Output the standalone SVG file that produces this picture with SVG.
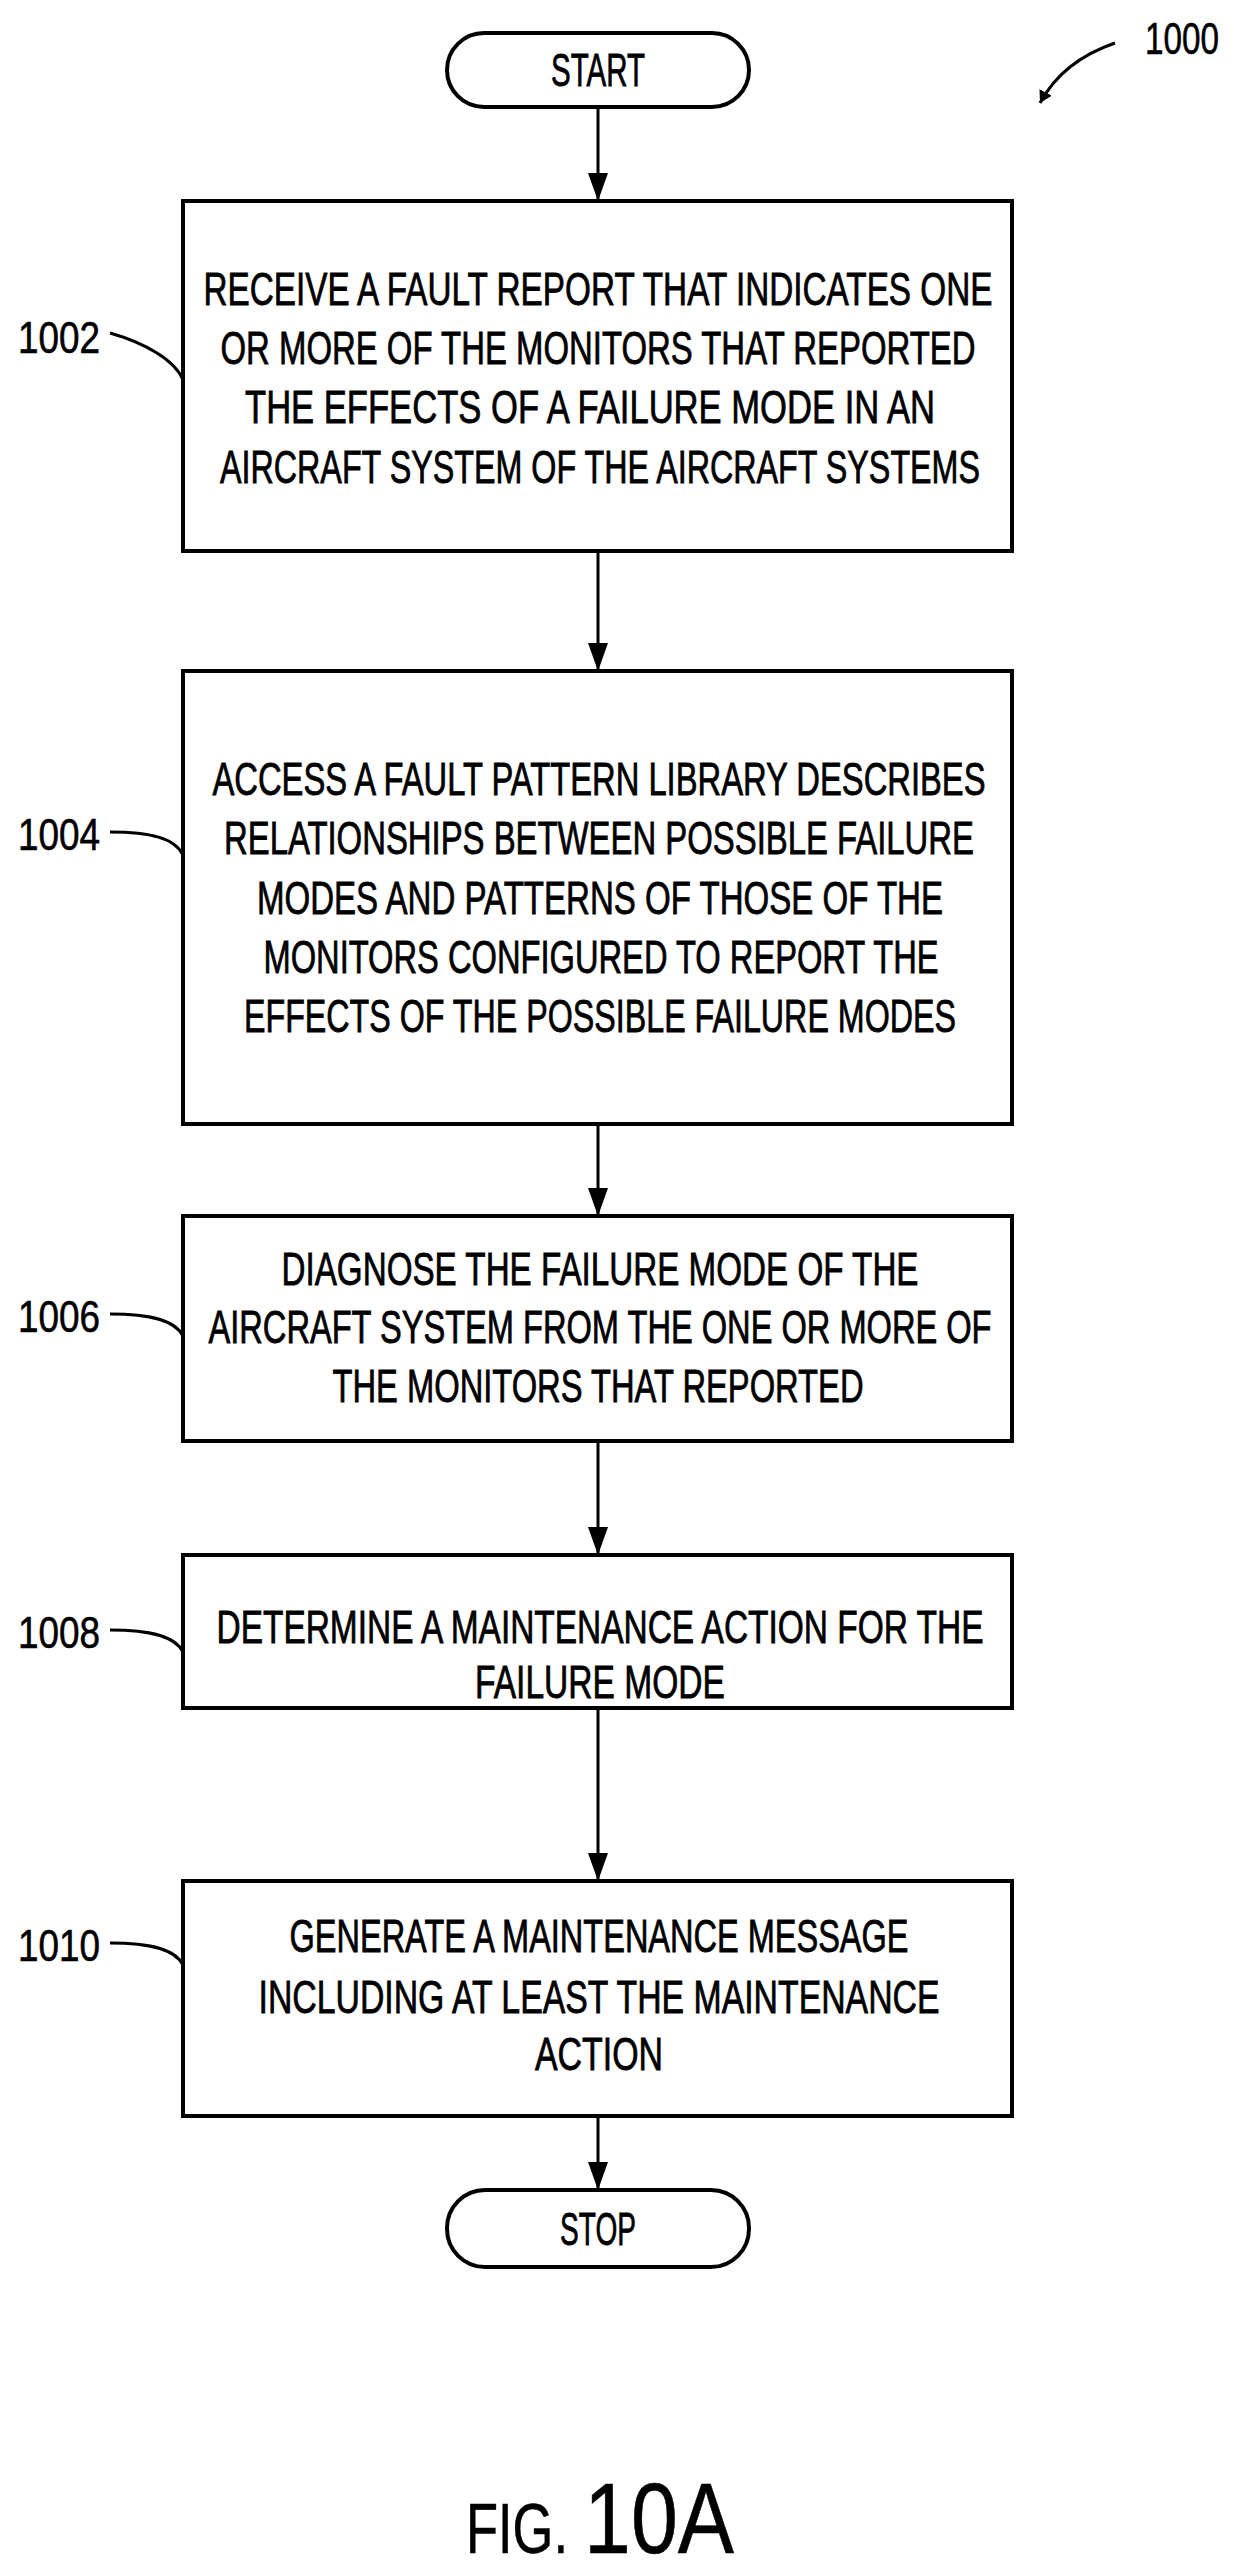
<svg xmlns="http://www.w3.org/2000/svg" width="1234" height="2565" viewBox="0 0 1234 2565">
<style>
.b{fill:#fff;stroke:#000;stroke-width:4}
.t{font-family:"Liberation Sans",Arial,sans-serif;font-size:46px;text-anchor:middle;fill:#000;stroke:#000;stroke-width:0.8}
.n{font-family:"Liberation Sans",Arial,sans-serif;font-size:44px;fill:#000;stroke:#000;stroke-width:0.6}
.c{stroke:#000;stroke-width:3;fill:none}
.l{stroke:#000;stroke-width:3;fill:none}
</style>
<defs><marker id="a" markerWidth="12" markerHeight="14" refX="12" refY="7" orient="auto" markerUnits="userSpaceOnUse"><path d="M0,0L12,7L0,14z" fill="#000"/></marker>
<marker id="a2" markerWidth="28" markerHeight="20" refX="26" refY="10" orient="auto" markerUnits="userSpaceOnUse"><path d="M0,0L28,10L0,20z" fill="#000"/></marker></defs>
<g id="connectors">
<line class="c" x1="598" y1="107" x2="598" y2="199" marker-end="url(#a2)"/>
<line class="c" x1="598" y1="551" x2="598" y2="669" marker-end="url(#a2)"/>
<line class="c" x1="598" y1="1124" x2="598" y2="1214" marker-end="url(#a2)"/>
<line class="c" x1="598" y1="1441" x2="598" y2="1553" marker-end="url(#a2)"/>
<line class="c" x1="598" y1="1708" x2="598" y2="1879" marker-end="url(#a2)"/>
<line class="c" x1="598" y1="2116" x2="598" y2="2188" stroke-width="1.5" marker-end="url(#a2)"/>
</g>
<g id="start"><rect class="b" x="447" y="33" width="302" height="74" rx="37"/><text class="t" x="598" y="86" textLength="94" lengthAdjust="spacingAndGlyphs">START</text></g>
<g id="n1002"><rect class="b" x="183" y="201" width="829" height="350"/>
<text class="t" x="598" y="305" textLength="789" lengthAdjust="spacingAndGlyphs">RECEIVE A FAULT REPORT THAT INDICATES ONE</text>
<text class="t" x="598" y="364" textLength="755" lengthAdjust="spacingAndGlyphs">OR MORE OF THE MONITORS THAT REPORTED</text>
<text class="t" x="590" y="423" textLength="690" lengthAdjust="spacingAndGlyphs">THE EFFECTS OF A FAILURE MODE IN AN</text>
<text class="t" x="600" y="483" textLength="760" lengthAdjust="spacingAndGlyphs">AIRCRAFT SYSTEM OF THE AIRCRAFT SYSTEMS</text></g>
<g id="n1004"><rect class="b" x="183" y="671" width="829" height="453"/>
<text class="t" x="599" y="795" textLength="773" lengthAdjust="spacingAndGlyphs">ACCESS A FAULT PATTERN LIBRARY DESCRIBES</text>
<text class="t" x="599" y="854" textLength="750" lengthAdjust="spacingAndGlyphs">RELATIONSHIPS BETWEEN POSSIBLE FAILURE</text>
<text class="t" x="600" y="914" textLength="686" lengthAdjust="spacingAndGlyphs">MODES AND PATTERNS OF THOSE OF THE</text>
<text class="t" x="601" y="973" textLength="675" lengthAdjust="spacingAndGlyphs">MONITORS CONFIGURED TO REPORT THE</text>
<text class="t" x="600" y="1032" textLength="712" lengthAdjust="spacingAndGlyphs">EFFECTS OF THE POSSIBLE FAILURE MODES</text></g>
<g id="n1006"><rect class="b" x="183" y="1216" width="829" height="225"/>
<text class="t" x="600" y="1285" textLength="637" lengthAdjust="spacingAndGlyphs">DIAGNOSE THE FAILURE MODE OF THE</text>
<text class="t" x="600" y="1343" textLength="783" lengthAdjust="spacingAndGlyphs">AIRCRAFT SYSTEM FROM THE ONE OR MORE OF</text>
<text class="t" x="598" y="1402" textLength="531" lengthAdjust="spacingAndGlyphs">THE MONITORS THAT REPORTED</text></g>
<g id="n1008"><rect class="b" x="183" y="1555" width="829" height="153"/>
<text class="t" x="600" y="1643" textLength="767" lengthAdjust="spacingAndGlyphs">DETERMINE A MAINTENANCE ACTION FOR THE</text>
<text class="t" x="600" y="1698" textLength="250" lengthAdjust="spacingAndGlyphs">FAILURE MODE</text></g>
<g id="n1010"><rect class="b" x="183" y="1881" width="829" height="235"/>
<text class="t" x="599" y="1952" textLength="619" lengthAdjust="spacingAndGlyphs">GENERATE A MAINTENANCE MESSAGE</text>
<text class="t" x="599" y="2013" textLength="681" lengthAdjust="spacingAndGlyphs">INCLUDING AT LEAST THE MAINTENANCE</text>
<text class="t" x="599" y="2070" textLength="128" lengthAdjust="spacingAndGlyphs">ACTION</text></g>
<g id="stop"><rect class="b" x="447" y="2190" width="302" height="77" rx="38"/><text class="t" x="598" y="2245" textLength="76" lengthAdjust="spacingAndGlyphs">STOP</text></g>
<g id="labels">
<text class="n" x="18" y="353" textLength="82" lengthAdjust="spacingAndGlyphs">1002</text>
<path class="l" d="M110,333 C145,343 175,360 183,380"/>
<text class="n" x="18" y="850" textLength="82" lengthAdjust="spacingAndGlyphs">1004</text>
<path class="l" d="M110,832 C150,832 175,838 183,855"/>
<text class="n" x="18" y="1332" textLength="82" lengthAdjust="spacingAndGlyphs">1006</text>
<path class="l" d="M110,1314 C150,1314 175,1320 183,1336"/>
<text class="n" x="18" y="1648" textLength="82" lengthAdjust="spacingAndGlyphs">1008</text>
<path class="l" d="M110,1630 C150,1630 175,1636 183,1652"/>
<text class="n" x="18" y="1961" textLength="82" lengthAdjust="spacingAndGlyphs">1010</text>
<path class="l" d="M110,1943 C150,1943 175,1949 183,1965"/>
<text class="n" x="1145" y="54" textLength="74" lengthAdjust="spacingAndGlyphs">1000</text>
<path class="l" d="M1115,43 C1080,55 1055,75 1040,103" marker-end="url(#a)"/>
<text class="n" x="466" y="2553" style="font-size:70px" textLength="102" lengthAdjust="spacingAndGlyphs">FIG.</text>
<text class="n" x="584" y="2553" style="font-size:100px" textLength="150" lengthAdjust="spacingAndGlyphs">10A</text>
</g>
</svg>
